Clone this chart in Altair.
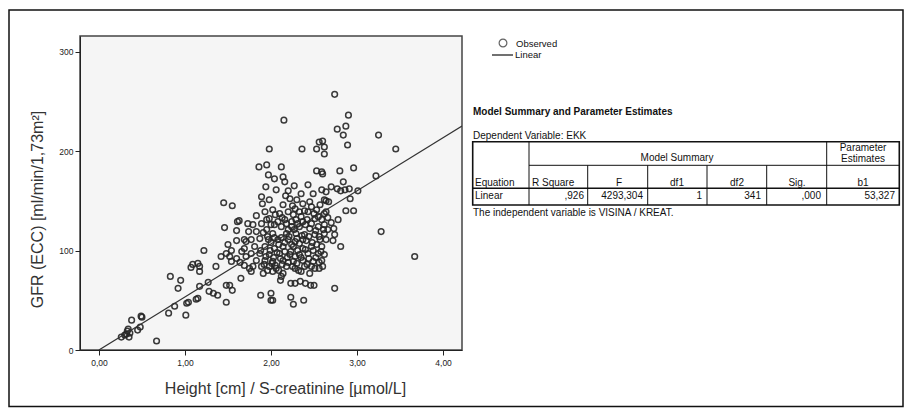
import altair as alt
import pandas as pd

# ---------------- data ----------------
obs_x = [
    # low-left
    0.26, 0.30, 0.32, 0.33, 0.34, 0.35, 0.36, 0.38, 0.45, 0.48, 0.49, 0.50, 0.67, 0.81, 0.88,
    0.83, 0.92, 0.95, 1.01, 1.02, 1.04, 1.13, 1.15, 1.07, 1.09, 1.15, 1.17, 1.17, 1.22, 1.17,
    1.27, 1.28, 1.33, 1.38, 1.36, 1.48, 1.48, 1.52, 1.55, 1.65, 1.45, 1.55, 1.46, 1.61, 1.63, 1.60,
    # mid-left
    1.42, 1.48, 1.50, 1.52, 1.54, 1.54, 1.60, 1.60, 1.64, 1.66, 1.69, 1.69, 1.71, 1.74, 1.75,
    1.73, 1.71, 1.69,
    # dense cluster
    1.86, 1.95, 2.12, 1.97, 2.04, 2.14, 2.16, 2.43, 1.94, 2.06, 2.35, 2.49, 2.59, 2.64, 1.89,
    1.98, 2.22, 2.30, 2.62, 2.14, 2.37, 2.47, 2.57, 1.93, 2.02, 2.10, 2.20, 2.26, 2.33, 2.43,
    2.53, 2.64, 1.83, 1.98, 2.16, 2.29, 2.37, 2.51, 2.59, 1.79, 1.89, 2.04, 2.12, 2.24, 2.33,
    2.45, 2.55, 2.62, 1.83, 1.95, 2.02, 2.18, 2.29, 2.39, 2.51, 2.62, 1.77, 1.87, 1.97, 2.08,
    2.20, 2.28, 2.37, 2.57, 2.64, 1.81, 1.93, 2.04, 2.14, 2.26, 2.37, 2.47, 2.59, 1.77, 1.87,
    1.98, 2.10, 2.22, 2.33, 2.43, 2.55, 2.62, 1.83, 1.93, 2.02, 2.14, 2.26, 2.37, 2.49, 2.59,
    1.79, 1.89, 1.98, 2.06, 2.18, 2.28, 2.39, 2.51, 2.60, 1.77, 1.91, 2.02, 2.14, 2.35, 2.45,
    # dense cluster, overlapping circles
    1.90, 1.95, 2.00, 2.05, 2.08, 2.13, 2.18, 2.20, 2.24, 2.27, 2.31, 2.35, 2.40, 2.42, 2.47,
    2.52, 2.56, 2.61, 1.91, 1.96, 2.00, 2.04, 2.09, 2.12, 2.16, 2.21, 2.24, 2.30, 2.33, 2.36,
    2.41, 2.44, 2.48, 2.53, 2.58, 1.88, 1.94, 1.99, 2.03, 2.07, 2.11, 2.16, 2.19, 2.23, 2.28,
    2.31, 2.35, 2.40, 2.44, 2.49, 2.52, 2.56, 1.92, 1.96, 2.01, 2.05, 2.09, 2.13, 2.20, 2.25,
    2.30, 2.32, 2.42, 2.47, 2.56, 2.17, 2.25, 2.28, 2.39, 2.45, 2.50, 2.55, 2.20, 2.27,
    # right of cluster
    2.70, 2.77, 2.81, 2.86, 2.91, 3.01, 2.84, 2.92, 2.87, 2.96, 2.64, 2.67, 2.78, 2.62, 2.66,
    2.73, 2.74, 2.81, 2.70, 2.66, 2.72,
    # low-middle
    1.88, 2.00, 2.00, 2.02, 2.23, 2.26, 2.38, 2.23, 2.28, 2.34, 2.40, 2.46, 2.50, 2.11, 2.12,
    # upper and outliers
    2.74, 2.15, 2.90, 2.77, 2.84, 2.87, 3.25, 3.45, 2.89, 2.36, 1.98, 2.56, 2.60, 2.62, 2.53,
    2.62, 3.22, 2.96, 2.80, 2.53, 2.59, 2.60, 3.28, 3.67, 2.74,
]
obs_y = [
    13, 15, 16, 19, 21, 13, 17, 30, 20, 23, 34, 33, 9, 37, 44,
    74, 62, 70, 35, 47, 48, 51, 52, 83, 86, 87, 84, 79, 100, 64,
    68, 59, 57, 55, 84, 48, 65, 65, 60, 72, 148, 145, 123, 129, 130, 120,
    94, 97, 106, 94, 100, 89, 110, 92, 88, 99, 111, 85, 94, 119, 82,
    127, 109, 102,
    184, 186, 184, 176, 172, 174, 169, 166, 164, 161, 157, 157, 161, 159, 154,
    151, 152, 151, 151, 146, 147, 144, 146, 139, 141, 137, 139, 136, 139, 139,
    141, 139, 135, 132, 131, 131, 129, 132, 131, 126, 127, 126, 124, 124, 124,
    122, 124, 126, 119, 121, 117, 117, 117, 116, 116, 117, 111, 112, 111, 111,
    111, 109, 111, 111, 111, 104, 104, 102, 104, 104, 102, 104, 104, 97, 97,
    96, 97, 96, 96, 97, 97, 96, 90, 90, 89, 90, 89, 90, 89, 90,
    84, 84, 84, 82, 84, 82, 84, 82, 84, 79, 77, 79, 77, 79, 77,
    147, 131, 126, 136, 129, 133, 127, 121, 129, 121, 127, 134, 126, 131, 127,
    120, 114, 121, 118, 114, 108, 113, 106, 113, 108, 114, 106, 112, 107, 115,
    110, 114, 108, 106, 99, 100, 94, 100, 93, 98, 92, 99, 93, 99, 94,
    100, 93, 101, 92, 100, 93, 88, 86, 80, 87, 85, 80, 86, 88, 84,
    87, 80, 86, 84, 82, 155, 145, 142, 140, 149, 137, 134, 160, 165,
    164, 162, 160, 161, 162, 160, 169, 152, 140, 140, 150, 149, 131, 137, 121,
    122, 116, 104, 128, 133, 110,
    55, 57, 50, 50, 53, 46, 50, 67, 67, 69, 67, 65, 65, 70, 74,
    257, 231, 236, 222, 216, 225, 216, 202, 206, 202, 202, 209, 210, 204, 202,
    197, 175, 183, 180, 180, 179, 177, 119, 94, 62,
]
slope_b1 = 53.327
line_x = [0.0, 4.22]

legend_labels = ["Observed", "Linear"]
table_title = "Model Summary and Parameter Estimates"
dep_var = "Dependent Variable: EKK"
group_headers = ["Model Summary", "Parameter", "Estimates"]
header_cols = ["Equation", "R Square", "F", "df1", "df2", "Sig.", "b1"]
row_values = ["Linear", ",926", "4293,304", "1", "341", ",000", "53,327"]
footnote = "The independent variable is VISINA / KREAT."

x_title = "Height [cm] / S-creatinine [\u00b5mol/L]"
y_title = "GFR (ECC) [ml/min/1,73m\u00b2]"

FONT = "Liberation Sans"
INK = "#222222"

n = min(len(obs_x), len(obs_y))
df_pts = pd.DataFrame({"x": obs_x[:n], "y": obs_y[:n]})
df_line = pd.DataFrame({"x": line_x, "y": [slope_b1 * v for v in line_x]})

xscale = alt.Scale(domain=[-0.22, 4.22], nice=False, zero=False)
yscale = alt.Scale(domain=[0, 315.6], nice=False, zero=False)

xaxis = alt.Axis(
    values=[0, 1, 2, 3, 4], labelExpr="replace(format(datum.value, '.2f'), '.', ',')",
    grid=False, tickSize=5, tickColor=INK, domainColor=INK, labelFontSize=8.5,
    labelColor=INK, labelFont=FONT, labelPadding=3, title=x_title, titleFont=FONT,
    titleFontSize=16, titleFontWeight="normal", titleColor="#333333",
    titleX=205, titleY=38, titleBaseline="middle",
)
yaxis = alt.Axis(
    values=[0, 100, 200, 300], format="d", grid=False, tickSize=5, tickColor=INK,
    domainColor=INK, labelFontSize=8.5, labelColor=INK, labelFont=FONT, labelPadding=2,
    title=y_title, titleFont=FONT, titleFontSize=16, titleFontWeight="normal",
    titleColor="#333333", titleX=-43, titleY=173, titleBaseline="middle",
)

points = alt.Chart(df_pts).mark_point(
    shape="circle", filled=False, color="#262626", size=32, strokeWidth=1.5, opacity=0.9
).encode(x=alt.X("x:Q", scale=xscale, axis=xaxis), y=alt.Y("y:Q", scale=yscale, axis=yaxis))

line = alt.Chart(df_line).mark_line(color="#333333", strokeWidth=1.2, clip=True).encode(
    x=alt.X("x:Q", scale=xscale), y=alt.Y("y:Q", scale=yscale)
)

layers = []
one = pd.DataFrame({"k": [0]})


def frame(x1, x2, y1, y2, sw):
    return alt.Chart(one).mark_rect(fillOpacity=0, stroke="#111111", strokeWidth=sw).encode(
        x=alt.value(x1), x2=alt.value(x2), y=alt.value(y1), y2=alt.value(y2)
    )


def rule(x1, x2, y1, y2, sw=1.0):
    return alt.Chart(one).mark_rule(color="#111111", strokeWidth=sw).encode(
        x=alt.value(x1), x2=alt.value(x2), y=alt.value(y1), y2=alt.value(y2)
    )


def txt(s, x, y, size=10, align="left", weight="normal"):
    return alt.Chart(one).mark_text(
        font=FONT, fontSize=size, align=align, baseline="middle", fontWeight=weight, color="#111111"
    ).encode(x=alt.value(x), y=alt.value(y), text=alt.value(s))


# outer page frame
layers.append(frame(-71, 823, -26, 370.5, 1.5))

# legend
layers.append(alt.Chart(one).mark_point(shape="circle", filled=False, color="#222222", size=60,
                                        strokeWidth=1.2).encode(x=alt.value(423), y=alt.value(7)))
layers.append(txt(legend_labels[0], 436, 8, 9.5))
layers.append(rule(412, 433, 19, 19, 1.2))
layers.append(txt(legend_labels[1], 435, 19, 9.5))

# table
layers.append(txt(table_title, 393, 76, 10, weight="bold"))
layers.append(txt(dep_var, 393, 100, 10))
layers.append(frame(392.7, 819.3, 105.7, 169, 1.6))
layers.append(rule(449, 819.3, 129.3, 129.3, 1.0))
layers.append(rule(392.7, 819.3, 152.3, 152.3, 1.6))
layers.append(rule(449, 449, 105.7, 169, 1.0))
layers.append(rule(746.7, 746.7, 105.7, 169, 1.0))
for vx in [507.7, 567.7, 627, 686.7]:
    layers.append(rule(vx, vx, 129.3, 169, 1.0))
layers.append(txt(group_headers[0], 597, 122, 10, align="center"))
layers.append(txt(group_headers[1], 783, 111.5, 10, align="center"))
layers.append(txt(group_headers[2], 783, 122.5, 10, align="center"))
hx = [(395, "left"), (452, "left"), (539, "center"), (597, "center"), (657, "center"),
      (717, "center"), (783, "center")]
for (x, a), s in zip(hx, header_cols):
    layers.append(txt(s, x, 146.5, 10, align=a))
vx_pos = [(395, "left"), (504, "right"), (563, "right"), (622, "right"), (681, "right"),
          (741, "right"), (815, "right")]
for (x, a), s in zip(vx_pos, row_values):
    layers.append(txt(s, x, 160, 10, align=a))
layers.append(txt(footnote, 393, 177, 10))

chart = alt.layer(points, line, *layers).properties(
    width=382, height=314,
    autosize=alt.AutoSizeParams(type="none"),
    padding={"left": 72, "top": 28, "right": 442, "bottom": 58},
    background="white",
).configure_view(fill="#f5f5f5", stroke="#444444", strokeWidth=1.5)

chart.save("out.html", embed_options={"renderer": "svg", "actions": False})
